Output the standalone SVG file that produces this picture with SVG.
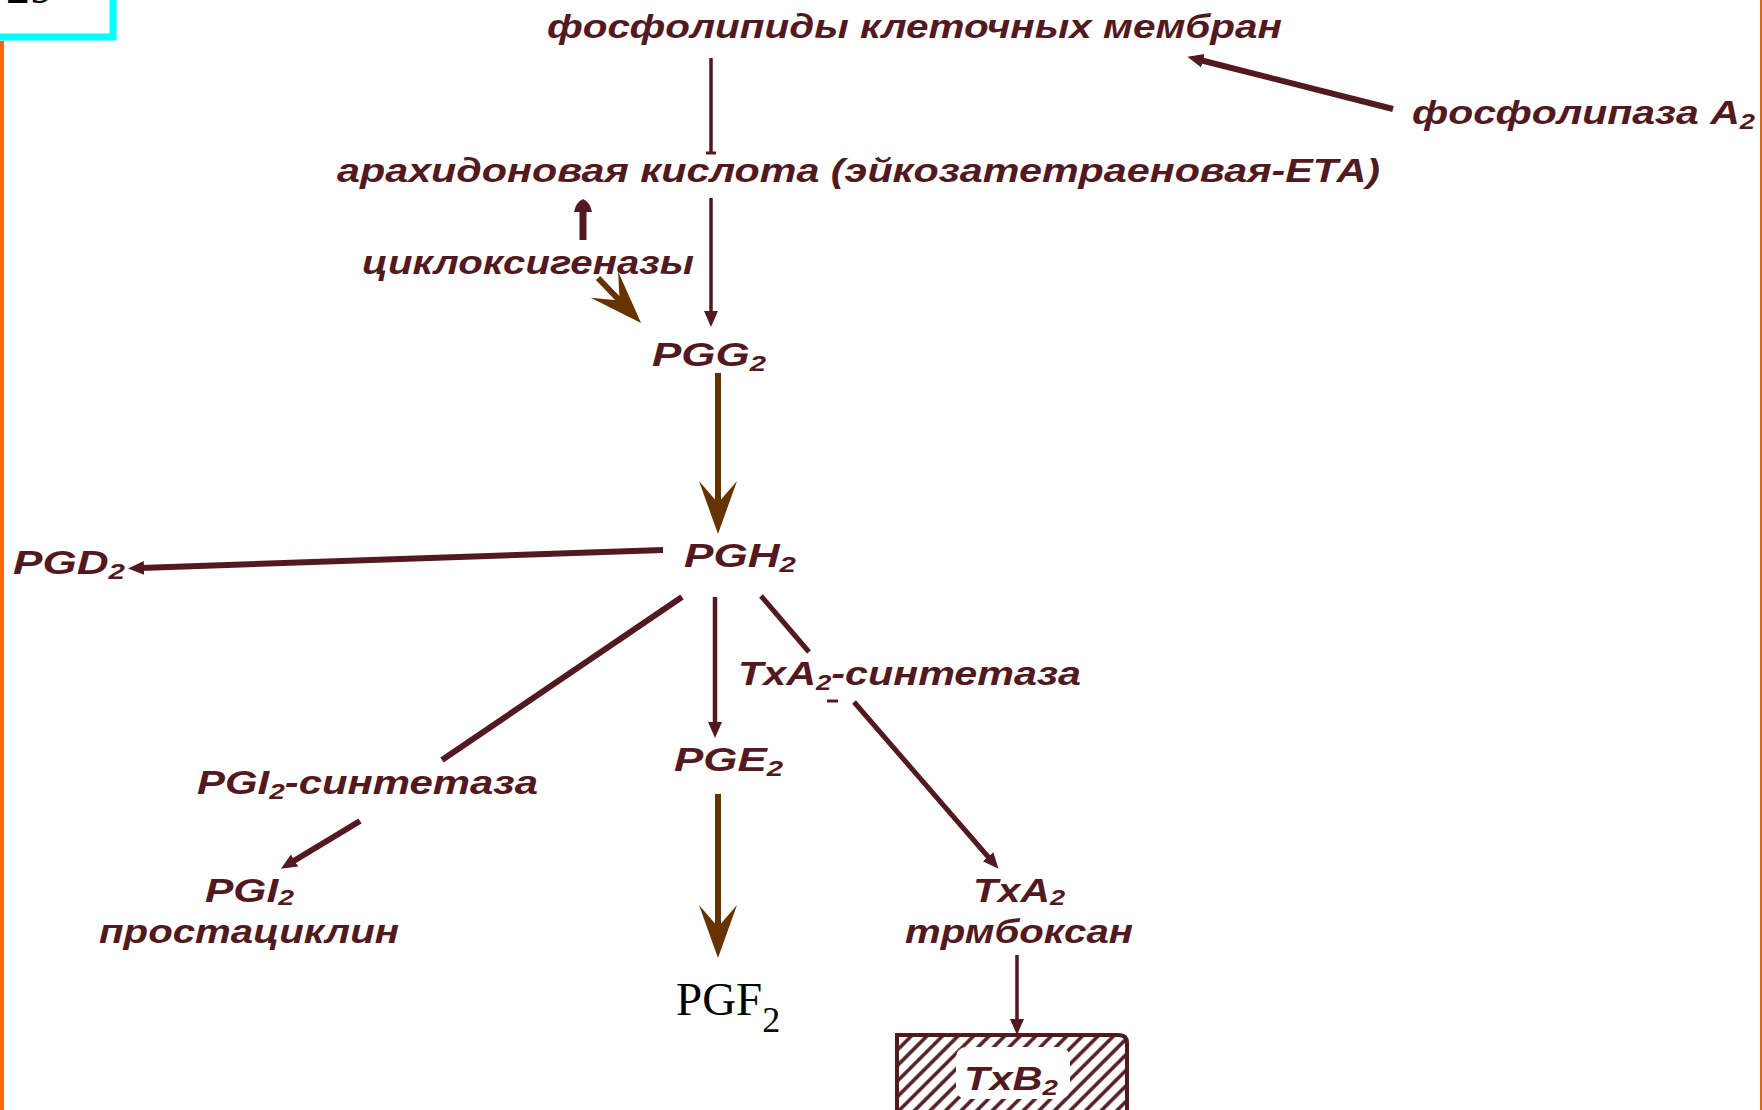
<svg xmlns="http://www.w3.org/2000/svg" width="1762" height="1110" viewBox="0 0 1762 1110">
<style>
.t{font-family:"Liberation Sans",Arial,sans-serif;font-style:italic;font-weight:bold;font-size:33px;fill:#521a20}
.sub{font-size:22px}
.ln{stroke:#521a20;fill:none;stroke-linecap:butt}
.br{stroke:#663300;fill:none;stroke-width:6}
</style>
<defs>
<marker id="ah" viewBox="0 -8 16 16" refX="3" refY="0" markerWidth="16" markerHeight="16" markerUnits="userSpaceOnUse" orient="auto">
<path d="M16,0 L0,-7 L0,7 Z" fill="#521a20"/>
</marker>
<marker id="bh" viewBox="0 -20 54 40" refX="24" refY="0" markerWidth="54" markerHeight="40" markerUnits="userSpaceOnUse" orient="auto">
<path d="M53,0 L0,-19 L22,0 L0,19 Z" fill="#663300"/>
</marker>
<pattern id="hatch" width="11" height="11" patternUnits="userSpaceOnUse" patternTransform="rotate(45)">
<line x1="2" y1="0" x2="2" y2="11" stroke="#521a20" stroke-width="3.5"/>
</pattern>
</defs>
<rect width="1762" height="1110" fill="#ffffff"/>
<rect x="0" y="41" width="4" height="1069" fill="#ff6600"/>
<rect x="1760" y="0" width="2" height="1110" fill="#d2691e"/>
<g id="badge">
<rect x="-10" y="-10" width="123" height="47" fill="#ffffff" stroke="#00ffff" stroke-width="7"/>
<text x="6" y="3" font-family="Liberation Serif, serif" font-size="48" fill="#000000">29</text>
</g>
<g id="connectors">
<line class="ln" x1="711" y1="58" x2="711" y2="153" stroke-width="3.5"/>
<line class="ln" x1="706" y1="153" x2="716" y2="153" stroke-width="3"/>
<line class="ln" x1="1393" y1="109" x2="1200" y2="60" stroke-width="6" marker-end="url(#ah)"/>
<line class="ln" x1="711" y1="198" x2="711" y2="314" stroke-width="3.5" marker-end="url(#ah)"/>
<line class="ln" x1="583" y1="240" x2="583" y2="208" stroke-width="7"/>
<path d="M574,212 Q576,202 583,199 Q590,202 592,212 Z" fill="#521a20"/>
<line class="br" x1="598" y1="278" x2="621" y2="302" marker-end="url(#bh)"/>
<line class="br" x1="718" y1="373" x2="718" y2="505" marker-end="url(#bh)"/>
<line class="ln" x1="663" y1="550" x2="141" y2="568" stroke-width="6" marker-end="url(#ah)"/>
<line class="ln" x1="682" y1="597" x2="442" y2="760" stroke-width="6"/>
<line class="ln" x1="715" y1="597" x2="715" y2="725" stroke-width="4.5" marker-end="url(#ah)"/>
<line class="ln" x1="761" y1="596" x2="809" y2="652" stroke-width="5"/>
<line class="ln" x1="854" y1="702" x2="990" y2="859" stroke-width="5" marker-end="url(#ah)"/>
<line class="ln" x1="827" y1="701" x2="838" y2="701" stroke-width="3"/>
<line class="ln" x1="360" y1="821" x2="292" y2="862" stroke-width="6" marker-end="url(#ah)"/>
<line class="br" x1="718" y1="794" x2="718" y2="929" marker-end="url(#bh)"/>
<line class="ln" x1="1017" y1="955" x2="1017" y2="1022" stroke-width="3.5" marker-end="url(#ah)"/>
</g>
<g id="n-phospholipids"><text class="t" x="547" y="38" textLength="735" lengthAdjust="spacingAndGlyphs">фосфолипиды клеточных мембран</text></g>
<g id="n-pla2"><text class="t" x="1412" y="124" textLength="343" lengthAdjust="spacingAndGlyphs">фосфолипаза A<tspan class="sub" dy="5">2</tspan></text></g>
<g id="n-aa"><text class="t" x="337" y="182" textLength="1043" lengthAdjust="spacingAndGlyphs">арахидоновая кислота (эйкозатетраеновая-ЕТА)</text></g>
<g id="n-cox"><text class="t" x="362" y="274" textLength="332" lengthAdjust="spacingAndGlyphs">циклоксигеназы</text></g>
<g id="n-pgg2"><text class="t" x="652" y="366" textLength="114" lengthAdjust="spacingAndGlyphs">PGG<tspan class="sub" dy="5">2</tspan></text></g>
<g id="n-pgh2"><text class="t" x="684" y="567" textLength="112" lengthAdjust="spacingAndGlyphs">PGH<tspan class="sub" dy="5">2</tspan></text></g>
<g id="n-pgd2"><text class="t" x="13" y="574" textLength="112" lengthAdjust="spacingAndGlyphs">PGD<tspan class="sub" dy="5">2</tspan></text></g>
<g id="n-txa2s"><text class="t" x="738" y="685" textLength="343" lengthAdjust="spacingAndGlyphs">TxA<tspan class="sub" dy="5">2</tspan><tspan dy="-5">-синтетаза</tspan></text></g>
<g id="n-pge2"><text class="t" x="674" y="771" textLength="109" lengthAdjust="spacingAndGlyphs">PGE<tspan class="sub" dy="5">2</tspan></text></g>
<g id="n-pgi2s"><text class="t" x="197" y="794" textLength="341" lengthAdjust="spacingAndGlyphs">PGI<tspan class="sub" dy="5">2</tspan><tspan dy="-5">-синтетаза</tspan></text></g>
<g id="n-pgi2">
<text class="t" x="205" y="902" textLength="89" lengthAdjust="spacingAndGlyphs">PGI<tspan class="sub" dy="3">2</tspan></text>
<text class="t" x="99" y="943" textLength="300" lengthAdjust="spacingAndGlyphs">простациклин</text>
</g>
<g id="n-txa2">
<text class="t" x="973" y="902" textLength="92" lengthAdjust="spacingAndGlyphs">TxA<tspan class="sub" dy="3">2</tspan></text>
<text class="t" x="905" y="943" textLength="228" lengthAdjust="spacingAndGlyphs">трмбоксан</text>
</g>
<g id="n-pgf2"><text x="676" y="1015" font-family="Liberation Serif, serif" font-size="47" fill="#000000">PGF<tspan font-size="36" dy="17">2</tspan></text></g>
<g id="n-txb2">
<path d="M897,1112 L897,1035 L1119,1035 Q1127,1035 1127,1043 L1127,1112 Z" fill="url(#hatch)"/>
<rect x="956" y="1047" width="114" height="52" rx="10" fill="#ffffff"/>
<path d="M897,1112 L897,1035 L1119,1035 Q1127,1035 1127,1043 L1127,1112" fill="none" stroke="#521a20" stroke-width="4"/>
<text class="t" x="964" y="1090" textLength="94" lengthAdjust="spacingAndGlyphs">TxB<tspan class="sub" dy="5">2</tspan></text>
</g>
</svg>
